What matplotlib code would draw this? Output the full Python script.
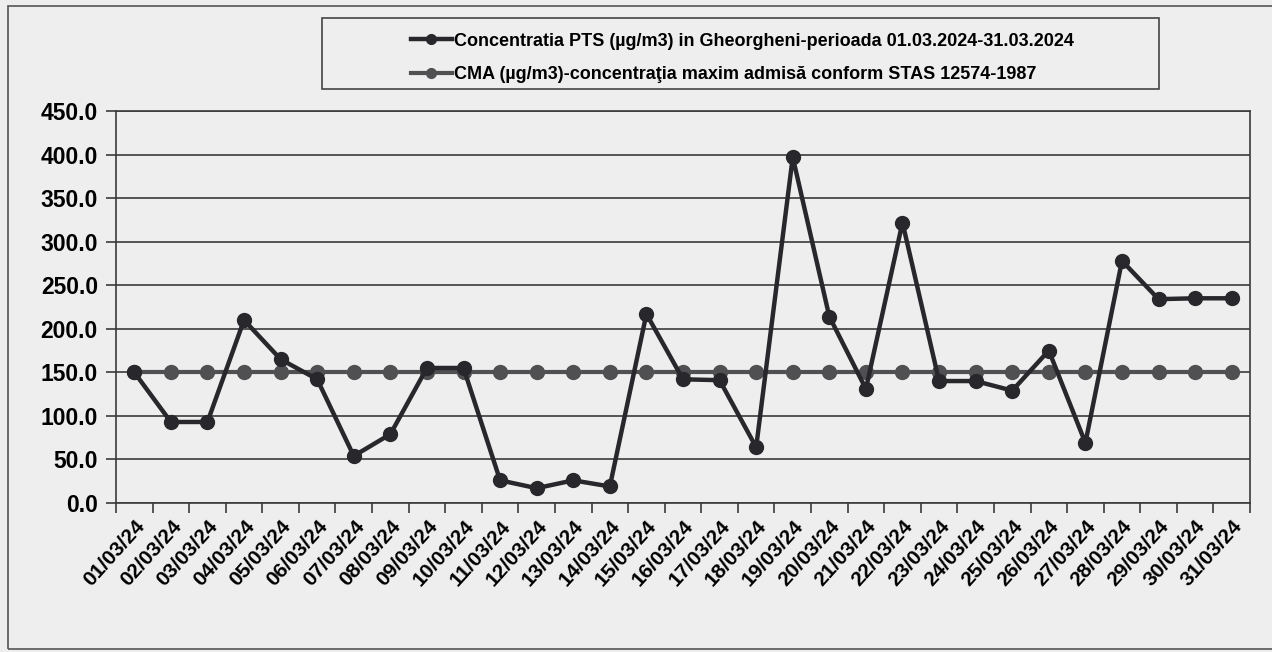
import matplotlib
matplotlib.use("Agg")
import matplotlib.pyplot as plt
from matplotlib.patches import Rectangle

# values
DATES = [f"{d:02d}/03/24" for d in range(1, 32)]
PTS = [150, 93, 93, 210, 165, 142, 54, 79, 155, 155,
       26, 17, 26, 19, 217, 142, 141, 64, 397, 214,
       131, 322, 140, 140, 129, 175, 69, 278, 234, 235, 235]
CMA = [150] * 31

PTS_LABEL = "Concentratia PTS (\u00b5g/m3) in Gheorgheni-perioada 01.03.2024-31.03.2024"
CMA_LABEL = "CMA (\u00b5g/m3)-concentra\u0163ia maxim admis\u0103 conform STAS 12574-1987"

BG = "#eeeeee"
DARK = "#28282c"
GREY = "#505052"
EDGE = "#3a3a3a"

plt.rcParams.update({
    "font.family": ["Liberation Sans", "DejaVu Sans"],
    "font.weight": "bold",
})

W, H = 1272, 652
fig = plt.figure(figsize=(W / 100, H / 100), dpi=100, facecolor=BG)
ax = fig.add_axes([116 / W, 1 - 503 / H, (1250 - 116) / W, (503 - 111) / H])
ax.set_facecolor(BG)

x = list(range(len(DATES)))
ax.plot(x, CMA, color=GREY, lw=3, marker="o", ms=10, mfc=GREY, mec=GREY,
        label=CMA_LABEL, zorder=3)
ax.plot(x, PTS, color=DARK, lw=3.2, marker="o", ms=10, mfc=DARK, mec=DARK,
        label=PTS_LABEL, zorder=4)

ax.set_xlim(-0.5, len(DATES) - 0.5)
ax.set_ylim(0, 450)
ax.set_yticks(range(0, 451, 50))
ax.set_yticklabels([f"{v:.1f}" for v in range(0, 451, 50)], fontsize=16.5, fontweight="bold")
ax.yaxis.grid(True, color=EDGE, lw=1.2)
ax.set_axisbelow(True)

# Excel-style category axis: tick marks between categories
ax.set_xticks(x)
ax.set_xticklabels(DATES, rotation=48, ha="right", rotation_mode="anchor",
                   fontsize=15, fontweight="bold")
ax.set_xticks([i - 0.5 for i in range(len(DATES) + 1)], minor=True)
ax.tick_params(axis="x", which="major", length=0, pad=10)
ax.tick_params(axis="x", which="minor", length=7, width=1.2, color=EDGE)
ax.tick_params(axis="y", length=7, width=1.2, color=EDGE, pad=6)
for side in ax.spines.values():
    side.set_color(EDGE)
    side.set_linewidth(1.2)

# outer chart frame and legend box
fig.patches.append(Rectangle((8 / W, 1 - 649 / H), (1290 - 8) / W, (649 - 6) / H,
                             transform=fig.transFigure, fill=False,
                             ec="#555555", lw=1.2))
fig.patches.append(Rectangle((322 / W, 1 - 89 / H), (1159 - 322) / W, (89 - 18) / H,
                             transform=fig.transFigure, fill=False,
                             ec="#444444", lw=1.2))
handles, labels = ax.get_legend_handles_labels()
fig.legend(handles[::-1], labels[::-1], loc="upper left",
           bbox_to_anchor=(398 / W, 1 - 20 / H), frameon=False,
           fontsize=13, handlelength=2.3, handletextpad=0.1,
           labelspacing=0.9, markerscale=0.7, borderpad=0.2)

fig.savefig("out.png", dpi=100, facecolor=BG)
